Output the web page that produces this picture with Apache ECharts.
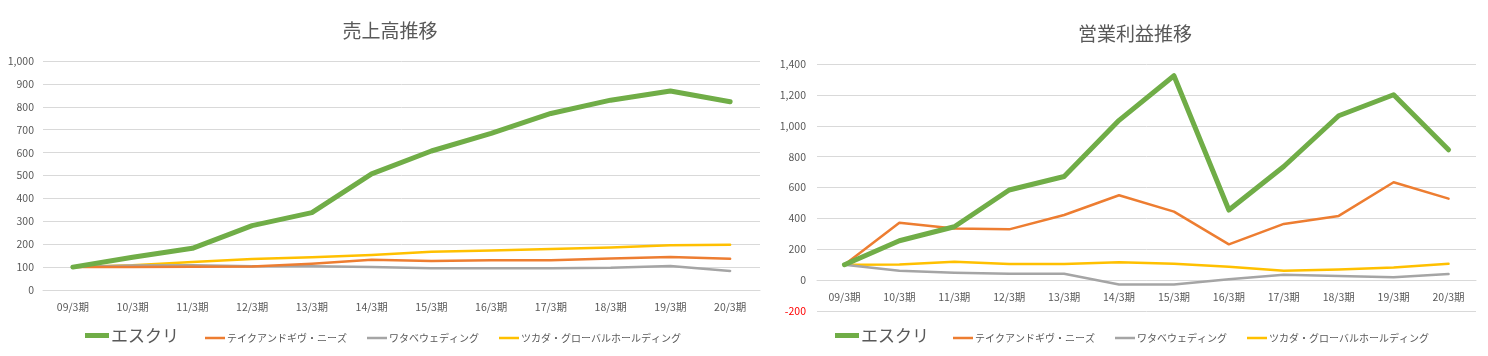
<!DOCTYPE html>
<html>
<head>
<meta charset="utf-8">
<script src="https://cdn.jsdelivr.net/npm/echarts@6/dist/echarts.min.js"></script>
<style>
html,body{margin:0;padding:0;background:#fff;}
#c{width:1488px;height:356px;}
</style>
</head>
<body>
<div id="c"></div>
<script>
const categories = ['09/3期','10/3期','11/3期','12/3期','13/3期','14/3期','15/3期','16/3期','17/3期','18/3期','19/3期','20/3期'];
const seriesNames = ['エスクリ','テイクアンドギヴ・ニーズ','ワタベウェディング','ツカダ・グローバルホールディング'];

// 売上高推移
const salesEscrit = [100,143,182,281,338,507,607,684,771,829,869,822];
const salesTakeGive = [100,100,101,103,115,132,127,130,130,138,144,137];
const salesWatabe = [100,107,108,104,104,100,95,95,95,97,105,83];
const salesTsukada = [100,108,122,135,143,153,167,173,179,186,195,198];

// 営業利益推移
const profitEscrit = [100,255,346,584,671,1035,1324,454,736,1065,1201,844];
const profitTakeGive = [100,372,335,329,422,550,444,232,364,416,634,528];
const profitWatabe = [100,61,48,41,41,-28,-28,6,35,26,19,39];
const profitTsukada = [100,102,119,104,104,115,106,87,61,69,82,106];

const salesTicks = {min:0, max:1000, interval:100};
const profitTicks = {min:-200, max:1400, interval:200};

const colors = ['#70AD47','#ED7D31','#A5A5A5','#FFC000'];
const widths = [5,2.5,2.5,2.5];
const FONT = '"Noto Sans CJK JP", "Noto Sans", sans-serif';
const txt = '#595959';
const grid = '#D9D9D9';

function fmt(v){ return Number(v).toLocaleString('en-US'); }

function makeSeries(dataArr, idx){
  return dataArr.map((d,i)=>({
    name: seriesNames[i], type:'line', xAxisIndex:idx, yAxisIndex:idx,
    data:d, symbol:'none', smooth:false,
    lineStyle:{color:colors[i], width:widths[i], cap:'round', join:'round'},
    itemStyle:{color:colors[i]},
    z: 10 - i
  }));
}

const chart = echarts.init(document.getElementById('c'));
function xAx(gi, margin, offset){
  return {type:'category', gridIndex:gi, data:categories, boundaryGap:true,
    position:'bottom', offset:offset,
    axisLine:{show:true, onZero:false, lineStyle:{color:grid, width:1}},
    axisTick:{show:false},
    axisLabel:{color:txt, fontSize:10.5, fontFamily:FONT, margin:margin, interval:0}};
}
function yAx(gi, t, margin){
  return {type:'value', gridIndex:gi, min:t.min, max:t.max, interval:t.interval,
    axisLine:{show:false}, axisTick:{show:false},
    splitLine:{show:true, lineStyle:{color:grid, width:1}},
    axisLabel:{fontSize:10.5, fontFamily:FONT, margin:margin, formatter:fmt,
      color:function(v){ return Number(v) < 0 ? '#FF0000' : txt; }}};
}
function legendPair(left1, left2){
  return [
    {data:[{name:seriesNames[0], icon:'rect'}], left:left1, top:322, itemWidth:24, itemHeight:5, itemGap:20,
      textStyle:{fontSize:17, color:txt, fontFamily:FONT, padding:[0,0,0,-3]}},
    {data:seriesNames.slice(1).map(n=>({name:n, icon:'rect'})), left:left2, top:328, itemWidth:20, itemHeight:2.5, itemGap:20,
      textStyle:{fontSize:10, color:txt, fontFamily:FONT, padding:[0,0,0,-3]}}
  ];
}

chart.setOption({
  animation:false,
  color:colors,
  title:[
    {text:'売上高推移', left:385, top:16, textAlign:'center', textStyle:{fontSize:19, fontWeight:'normal', color:txt, fontFamily:FONT}},
    {text:'営業利益推移', left:1130, top:19, textAlign:'center', textStyle:{fontSize:19, fontWeight:'normal', color:txt, fontFamily:FONT}}
  ],
  legend: legendPair(80,200).concat(legendPair(830,948)),
  grid:[
    {left:43, right:728, top:61, bottom:66},
    {left:817, right:12, top:64, bottom:45}
  ],
  xAxis:[xAx(0,12,0), xAx(1,12,-31)],
  yAxis:[yAx(0,salesTicks,9), yAx(1,profitTicks,11)],
  series: makeSeries([salesEscrit,salesTakeGive,salesWatabe,salesTsukada],0)
    .concat(makeSeries([profitEscrit,profitTakeGive,profitWatabe,profitTsukada],1))
});
</script>
</body>
</html>
